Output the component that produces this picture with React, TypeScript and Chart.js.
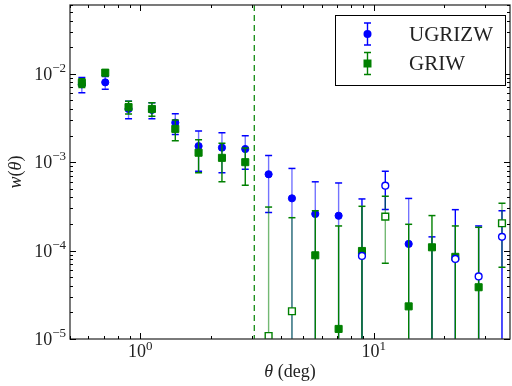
import { useEffect, useRef } from "react";
import { Chart, registerables } from "chart.js";
Chart.register(...registerables);

// angular bins (deg)
const theta = [0.562, 0.708, 0.891, 1.122, 1.413, 1.778, 2.239, 2.818, 3.548, 4.467, 5.623, 7.079, 8.913, 11.22, 14.13, 17.78, 22.39, 28.18, 35.48];
// UGRIZW w(theta) (negative values are shown as open markers at |w|)
const ugrizwW = [0.0076, 0.008, 0.004, 0.0039, 0.0028, 0.00152, 0.00146, 0.00141, 0.00073, 0.00039, 0.00026, 0.000248, -0.000087, -0.000542, 0.000119, -0.000004, -0.0000804, -0.000051, -0.000143];
const ugrizwErr = [0.0015, 0.0013, 0.0009, 0.0008, 0.00074, 0.00073, 0.0007, 0.00058, 0.00046, 0.00046, 0.00034, 0.000334, 0.000297, 0.00025, 0.00027, 0.000139, 0.00021, 0.000139, 0.00014];
// GRIW w(theta)
const griwW = [0.0079, 0.0103, 0.0042, 0.004, 0.00238, 0.00128, 0.00112, 0.001, -0.0000108, -0.0000206, 0.0000885, 0.000013, 0.000099, -0.000242, 0.0000234, 0.000109, 0.000085, 0.0000385, -0.000204];
const griwErr = [0.0009, 0.0008, 0.0007, 0.0007, 0.00063, 0.00052, 0.00052, 0.00045, 0.0003, 0.000215, 0.000194, 0.000177, 0.000218, 0.00017, 0.000175, 0.00014, 0.000105, 0.000145, 0.000139];

const seriesNames = ["UGRIZW", "GRIW"];
const xRange = [0.5, 38.4];
const yRange = [1e-5, 0.06];
const cutTheta = 3.08;
const xMajor = [1, 10];
const yMajor = [1e-5, 1e-4, 1e-3, 1e-2];

const BLUE = "#0000ff";
const GREEN = "#008000";
const SERIF = '"Liberation Serif", "DejaVu Serif", serif';

function pts(w: number[], open: boolean) {
  const out: { x: number; y: number }[] = [];
  w.forEach((v, i) => {
    if (open ? v < 0 : v > 0) out.push({ x: theta[i], y: Math.abs(v) });
  });
  return out;
}

function drawErrorBars(chart: any, w: number[], err: number[], color: string, filledAlpha: number, openAlpha: number) {
  const { ctx, chartArea: a } = chart;
  const xs = chart.scales.x, ys = chart.scales.y;
  ctx.save();
  ctx.beginPath();
  ctx.rect(a.left, a.top, a.right - a.left, a.bottom - a.top);
  ctx.clip();
  w.forEach((v, i) => {
    const val = Math.abs(v);
    const hi = val + err[i];
    const lo = val - err[i];
    const px = xs.getPixelForValue(theta[i]);
    const pyHi = ys.getPixelForValue(hi);
    const pyLo = lo > 0 ? ys.getPixelForValue(lo) : a.bottom + 5;
    ctx.strokeStyle = color;
    ctx.globalAlpha = v > 0 ? filledAlpha : openAlpha;
    ctx.lineWidth = 1.4;
    ctx.beginPath();
    ctx.moveTo(px, pyHi);
    ctx.lineTo(px, pyLo);
    ctx.stroke();
    ctx.globalAlpha = 1;
    ctx.lineWidth = 1.5;
    ctx.beginPath();
    ctx.moveTo(px - 3.5, pyHi);
    ctx.lineTo(px + 3.5, pyHi);
    if (lo > 0) {
      ctx.moveTo(px - 3.5, pyLo);
      ctx.lineTo(px + 3.5, pyLo);
    }
    ctx.stroke();
  });
  ctx.restore();
}

function drawPow(ctx: CanvasRenderingContext2D, exp: string, x: number, baseY: number, align: "right" | "center", supDy: number) {
  ctx.font = `18px ${SERIF}`;
  const w1 = ctx.measureText("10").width;
  ctx.font = `13px ${SERIF}`;
  const w2 = ctx.measureText(exp).width;
  const total = w1 + w2;
  const left = align === "right" ? x - total : x - total / 2;
  ctx.textAlign = "left";
  ctx.textBaseline = "alphabetic";
  ctx.font = `18px ${SERIF}`;
  ctx.fillText("10", left, baseY);
  ctx.font = `13px ${SERIF}`;
  ctx.fillText(exp, left + w1, baseY - supDy);
}

function expLabel(v: number) {
  const e = Math.round(Math.log10(v));
  return e < 0 ? "\u2212" + Math.abs(e) : String(e);
}

function minorTicks(min: number, max: number) {
  const out: number[] = [];
  for (let d = Math.floor(Math.log10(min)); d <= Math.ceil(Math.log10(max)); d++) {
    for (let m = 2; m <= 9; m++) {
      const v = m * Math.pow(10, d);
      if (v >= min && v <= max) out.push(v);
    }
  }
  return out;
}

const decorPlugin = {
  id: "decor",
  beforeDatasetDraw(chart: any, args: any) {
    if (args.index === 0) drawErrorBars(chart, ugrizwW, ugrizwErr, BLUE, 0.55, 1);
    if (args.index === 1) drawErrorBars(chart, griwW, griwErr, GREEN, 1, 0.55);
  },
  beforeDatasetsDraw(chart: any) {
    const { ctx, chartArea: a } = chart;
    const px = chart.scales.x.getPixelForValue(cutTheta);
    ctx.save();
    ctx.strokeStyle = GREEN;
    ctx.lineWidth = 1.2;
    ctx.setLineDash([6, 4]);
    ctx.beginPath();
    ctx.moveTo(px, a.top);
    ctx.lineTo(px, a.bottom);
    ctx.stroke();
    ctx.restore();
  },
  afterDatasetsDraw(chart: any) {
    const { ctx, chartArea: a } = chart;
    const xs = chart.scales.x, ys = chart.scales.y;
    ctx.save();
    // frame
    ctx.strokeStyle = "#333";
    ctx.lineWidth = 1.3;
    ctx.strokeRect(a.left, a.top, a.right - a.left, a.bottom - a.top);
    ctx.strokeStyle = "#000";
    ctx.lineWidth = 1;
    ctx.beginPath();
    const xt = (v: number, len: number) => {
      const p = Math.round(xs.getPixelForValue(v)) + 0.5;
      ctx.moveTo(p, a.bottom); ctx.lineTo(p, a.bottom - len);
      ctx.moveTo(p, a.top); ctx.lineTo(p, a.top + len);
    };
    const yt = (v: number, len: number) => {
      const p = Math.round(ys.getPixelForValue(v)) + 0.5;
      ctx.moveTo(a.left, p); ctx.lineTo(a.left + len, p);
      ctx.moveTo(a.right, p); ctx.lineTo(a.right - len, p);
    };
    xMajor.forEach((v) => xt(v, 6));
    minorTicks(xRange[0], xRange[1]).forEach((v) => xt(v, 3));
    yMajor.forEach((v) => yt(v, 6));
    minorTicks(yRange[0], yRange[1]).forEach((v) => yt(v, 3));
    ctx.stroke();
    ctx.restore();

    // legend
    ctx.save();
    const lx = 335.5, ly = 15.5, lw = 170, lh = 70;
    ctx.fillStyle = "#fff";
    ctx.fillRect(lx, ly, lw, lh);
    ctx.strokeStyle = "#000";
    ctx.lineWidth = 1;
    ctx.strokeRect(lx, ly, lw, lh);
    const entries = [
      { name: seriesNames[0], color: BLUE, y: 34, shape: "circle" },
      { name: seriesNames[1], color: GREEN, y: 63.5, shape: "rect" },
    ];
    entries.forEach((e) => {
      const mx = 367.5;
      ctx.strokeStyle = e.color;
      ctx.lineWidth = 1.4;
      ctx.beginPath();
      ctx.moveTo(mx, e.y - 11); ctx.lineTo(mx, e.y + 11);
      ctx.moveTo(mx - 3.5, e.y - 11); ctx.lineTo(mx + 3.5, e.y - 11);
      ctx.moveTo(mx - 3.5, e.y + 11); ctx.lineTo(mx + 3.5, e.y + 11);
      ctx.stroke();
      ctx.fillStyle = e.color;
      ctx.beginPath();
      if (e.shape === "circle") ctx.arc(mx, e.y, 4, 0, Math.PI * 2);
      else ctx.rect(mx - 4, e.y - 4, 8, 8);
      ctx.fill();
      ctx.fillStyle = "#222";
      ctx.font = `21px ${SERIF}`;
      ctx.textAlign = "left";
      ctx.textBaseline = "middle";
      ctx.fillText(e.name, 409, e.y + 1);
    });
    ctx.restore();
  },
  afterDraw(chart: any) {
    const { ctx, chartArea: a } = chart;
    const xs = chart.scales.x, ys = chart.scales.y;
    ctx.save();
    ctx.fillStyle = "#222";
    yMajor.forEach((v) => {
      const p = ys.getPixelForValue(v);
      drawPow(ctx, expLabel(v), a.left - 4, p + 6, "right", 8);
    });
    xMajor.forEach((v) => {
      const p = xs.getPixelForValue(v);
      drawPow(ctx, expLabel(v), p, a.bottom + 18, "center", 7);
    });
    // x title
    ctx.textBaseline = "alphabetic";
    ctx.font = `italic 18px ${SERIF}`;
    const t1 = "\u03b8";
    const w1 = ctx.measureText(t1).width;
    ctx.font = `18px ${SERIF}`;
    const t2 = " (deg)";
    const w2 = ctx.measureText(t2).width;
    const cx = (a.left + a.right) / 2;
    let sx = cx - (w1 + w2) / 2;
    ctx.textAlign = "left";
    ctx.font = `italic 18px ${SERIF}`;
    ctx.fillText(t1, sx, 377);
    ctx.font = `18px ${SERIF}`;
    ctx.fillText(t2, sx + w1, 377);
    // y title
    ctx.translate(21, (a.top + a.bottom) / 2);
    ctx.rotate(-Math.PI / 2);
    const parts = [
      { t: "w", it: true },
      { t: "(", it: false },
      { t: "\u03b8", it: true },
      { t: ")", it: false },
    ];
    let tot = 0;
    parts.forEach((p) => {
      ctx.font = `${p.it ? "italic " : ""}18px ${SERIF}`;
      tot += ctx.measureText(p.t).width;
    });
    let ox = -tot / 2;
    parts.forEach((p) => {
      ctx.font = `${p.it ? "italic " : ""}18px ${SERIF}`;
      ctx.fillText(p.t, ox, 0);
      ox += ctx.measureText(p.t).width;
    });
    ctx.restore();
  },
};

export default function App() {
  const ref = useRef<HTMLCanvasElement>(null);
  useEffect(() => {
    if (!ref.current) return;
    const chart = new Chart(ref.current, {
      type: "scatter",
      data: {
        datasets: [
          { label: seriesNames[0], data: pts(ugrizwW, false), pointStyle: "circle", pointRadius: 3.6, pointBorderWidth: 1, backgroundColor: BLUE, borderColor: BLUE, order: 4, clip: 0 },
          { label: seriesNames[1], data: pts(griwW, false), pointStyle: "rect", pointRadius: 5, pointBorderWidth: 1, backgroundColor: GREEN, borderColor: GREEN, order: 3, clip: 0 },
          { label: seriesNames[0] + " (neg)", data: pts(ugrizwW, true), pointStyle: "circle", pointRadius: 3.4, pointBorderWidth: 1.4, backgroundColor: "#fff", borderColor: BLUE, order: 2, clip: 0 },
          { label: seriesNames[1] + " (neg)", data: pts(griwW, true), pointStyle: "rect", pointRadius: 4.8, pointBorderWidth: 1.4, backgroundColor: "#fff", borderColor: GREEN, order: 1, clip: 0 },
        ] as any,
      },
      options: {
        animation: false,
        responsive: false,
        events: [],
        layout: { autoPadding: false, padding: { left: 70, right: 2, top: 5, bottom: 47 } },
        scales: {
          x: { type: "logarithmic", min: xRange[0], max: xRange[1], display: false },
          y: { type: "logarithmic", min: yRange[0], max: yRange[1], display: false },
        },
        plugins: { legend: { display: false }, tooltip: { enabled: false } },
      },
      plugins: [decorPlugin],
    });
    return () => chart.destroy();
  }, []);
  return (
    <div style={{ position: "absolute", left: 0, top: 0, width: 512, height: 386, background: "#fff" }}>
      <canvas ref={ref} width={512} height={386} />
    </div>
  );
}
